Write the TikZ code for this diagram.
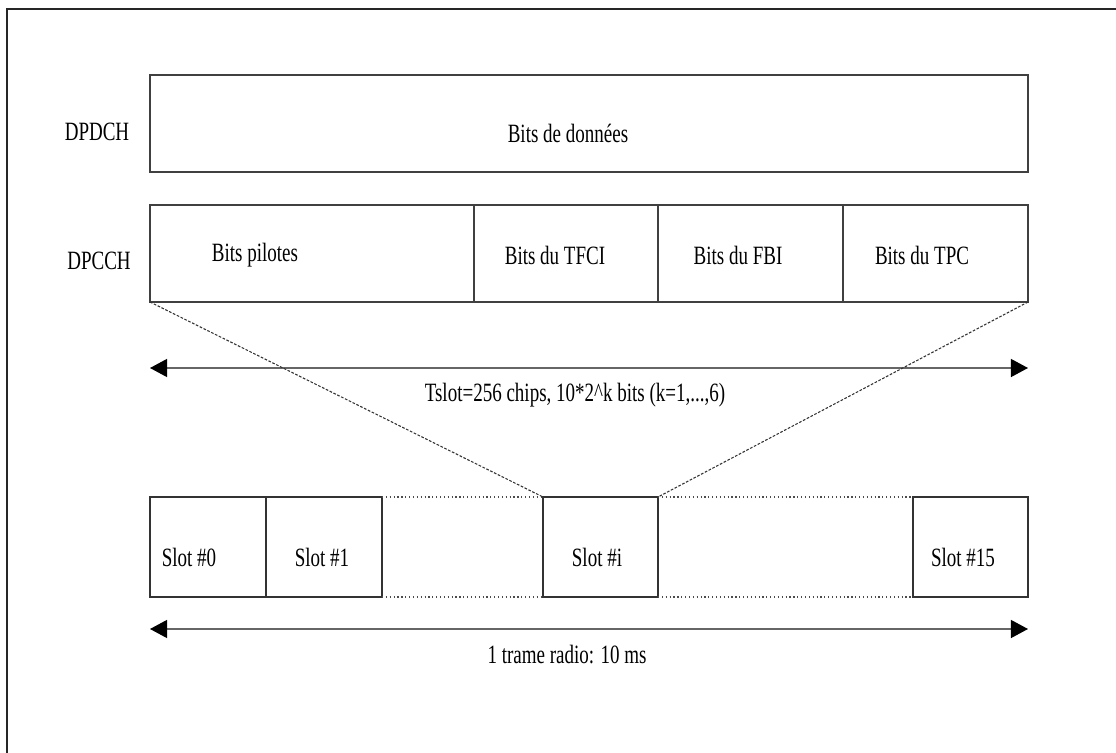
\documentclass[tikz,border=0pt]{standalone}
\usepackage{fontspec}
\setmainfont[FakeStretch=0.72]{Liberation Serif}
\usetikzlibrary{arrows.meta,positioning}

\newcommand{\pxu}{0.375pt}

\begin{document}
\begin{tikzpicture}[x=0.375pt, y=-0.375pt,
        every node/.style = {font=\fontsize{9.9}{11}\selectfont, inner sep=0pt, outer sep=0pt},
        field/.style = {draw=black!75, line width=0.45pt, minimum height=97*\pxu},
        slotbox/.style = {draw=black!80, line width=0.45pt, minimum height=100*\pxu},
        gapbox/.style = {minimum height=100*\pxu},
        dotline/.style = {black!70, line width=0.45pt, densely dotted},
        zoomline/.style = {black!80, line width=0.4pt, dash pattern=on 1pt off 0.6pt},
        span/.style = {draw=black!60, line width=0.55pt,
          {Triangle[length=6.4pt,width=6.75pt,color=black]}-{Triangle[length=6.4pt,width=6.75pt,color=black]}},
        frame/.style = {draw=black!85, line width=0.6pt}]
  \useasboundingbox (0,0) rectangle (1116,753);
  \draw[frame] (7,760) -- (7,9) -- (1120,9);

  % canal de donnees
  \node[field, anchor=north west, minimum width=878*\pxu] (donnees) at (150,75) {};
  \node at (97,132) {DPDCH};
  \node at (568,133) {Bits de données};

  % canal de controle
  \node[field, anchor=north west, minimum width=324*\pxu] (pilotes) at (150,205) {};
  \node[field, right=0pt of pilotes, minimum width=184*\pxu] (tfci) {};
  \node[field, right=0pt of tfci, minimum width=185*\pxu] (fbi) {};
  \node[field, right=0pt of fbi, minimum width=185*\pxu] (tpc) {};
  \node at (99,261) {DPCCH};
  \node at (255,255) {Bits pilotes};
  \node at (555,255) {Bits du TFCI};
  \node at (738,255) {Bits du FBI};
  \node at (922,255) {Bits du TPC};

  % duree d'un slot
  \coordinate (tslotG) at (150,368);
  \coordinate (tslotD) at (1028,368);
  \draw[span] (tslotG) -- (tslotD);
  \node at (575,395) {Tslot=256 chips, 10*2\textasciicircum k bits (k=1,...,6)};

  % trame radio
  \node[slotbox, anchor=north west, minimum width=116*\pxu] (slot0) at (150,497) {};
  \node[slotbox, right=0pt of slot0, minimum width=116*\pxu] (slot1) {};
  \node[gapbox, right=0pt of slot1, minimum width=161*\pxu] (trouA) {};
  \node[slotbox, right=0pt of trouA, minimum width=115*\pxu] (sloti) {};
  \node[gapbox, right=0pt of sloti, minimum width=255*\pxu] (trouB) {};
  \node[slotbox, right=0pt of trouB, minimum width=115*\pxu] (slot15) {};
  \draw[dotline] (trouA.north west) -- (trouA.north east);
  \draw[dotline] (trouA.south west) -- (trouA.south east);
  \draw[dotline] (trouB.north west) -- (trouB.north east);
  \draw[dotline] (trouB.south west) -- (trouB.south east);
  \node at (189,557) {Slot \#0};
  \node at (322,557) {Slot \#1};
  \node at (597,557) {Slot \#i};
  \node at (963,557) {Slot \#15};

  % zoom sur le slot i
  \draw[zoomline] (pilotes.south west) -- (sloti.north west);
  \draw[zoomline] (tpc.south east) -- (sloti.north east);

  \coordinate (trameG) at (150,629);
  \coordinate (trameD) at (1028,629);
  \draw[span] (trameG) -- (trameD);
  \node at (567,655) {1 trame radio: 10 ms};
\end{tikzpicture}
\end{document}
